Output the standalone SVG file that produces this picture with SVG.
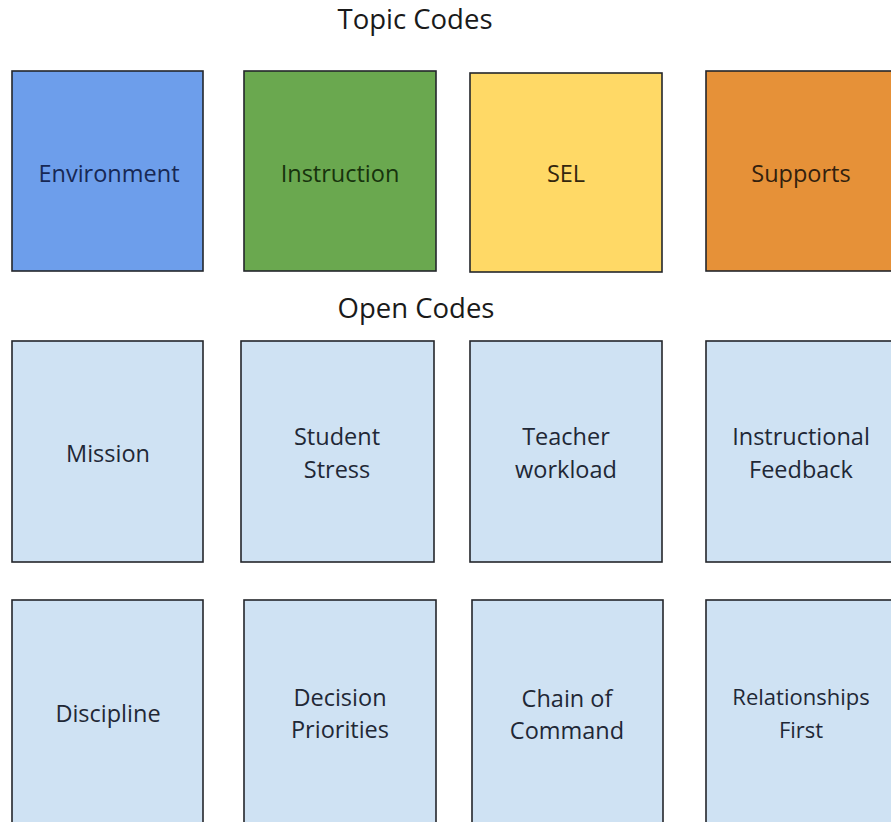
<svg xmlns="http://www.w3.org/2000/svg" width="891" height="822" viewBox="0 0 891 822">
  <style>
    .box { stroke: #24262b; stroke-width: 1.6; }
    .topic-env { fill: #6d9eeb; }
    .topic-ins { fill: #6aa84f; }
    .topic-sel { fill: #ffd966; }
    .topic-sup { fill: #e69138; }
    .open { fill: #cfe2f3; }
    text { font-family: "Open Sans", "Noto Sans", sans-serif; text-anchor: middle; }
    .heading { font-size: 27.5px; fill: #1a1a1a; }
    .label { font-size: 23.5px; fill: #1f2836; }
    .small { font-size: 22px; }
  </style>

  <!-- section headings -->
  <text class="heading" x="415" y="29">Topic Codes</text>
  <text class="heading" x="416" y="318">Open Codes</text>

  <!-- topic codes row -->
  <g id="environment">
    <rect class="box topic-env" x="12" y="71" width="191" height="200"/>
    <text class="label" x="109" y="182" style="fill:#172854">Environment</text>
  </g>
  <g id="instruction">
    <rect class="box topic-ins" x="244" y="71" width="192" height="200"/>
    <text class="label" x="340" y="182" style="fill:#17330d">Instruction</text>
  </g>
  <g id="sel">
    <rect class="box topic-sel" x="470" y="73" width="192" height="199"/>
    <text class="label" x="566" y="182" style="fill:#33260e">SEL</text>
  </g>
  <g id="supports">
    <rect class="box topic-sup" x="706" y="71" width="192" height="200"/>
    <text class="label" x="801" y="182" style="fill:#331f0e">Supports</text>
  </g>

  <!-- open codes, first row -->
  <g id="mission">
    <rect class="box open" x="12" y="341" width="191" height="221"/>
    <text class="label" x="108" y="462">Mission</text>
  </g>
  <g id="student-stress">
    <rect class="box open" x="241" y="341" width="193" height="221"/>
    <text class="label" x="337" y="445">Student</text>
    <text class="label" x="337" y="478">Stress</text>
  </g>
  <g id="teacher-workload">
    <rect class="box open" x="470" y="341" width="192" height="221"/>
    <text class="label" x="566" y="445">Teacher</text>
    <text class="label" x="566" y="478">workload</text>
  </g>
  <g id="instructional-feedback">
    <rect class="box open" x="706" y="341" width="192" height="221"/>
    <text class="label" x="801" y="445">Instructional</text>
    <text class="label" x="801" y="478">Feedback</text>
  </g>

  <!-- open codes, second row -->
  <g id="discipline">
    <rect class="box open" x="12" y="600" width="191" height="230"/>
    <text class="label" x="108" y="722">Discipline</text>
  </g>
  <g id="decision-priorities">
    <rect class="box open" x="244" y="600" width="192" height="230"/>
    <text class="label" x="340" y="706">Decision</text>
    <text class="label" x="340" y="738">Priorities</text>
  </g>
  <g id="chain-of-command">
    <rect class="box open" x="472" y="600" width="191" height="230"/>
    <text class="label" x="567" y="707">Chain of</text>
    <text class="label" x="567" y="739">Command</text>
  </g>
  <g id="relationships-first">
    <rect class="box open" x="706" y="600" width="192" height="230"/>
    <text class="label small" x="801" y="705">Relationships</text>
    <text class="label small" x="801" y="738">First</text>
  </g>

  <g id="connectors"></g>
</svg>
